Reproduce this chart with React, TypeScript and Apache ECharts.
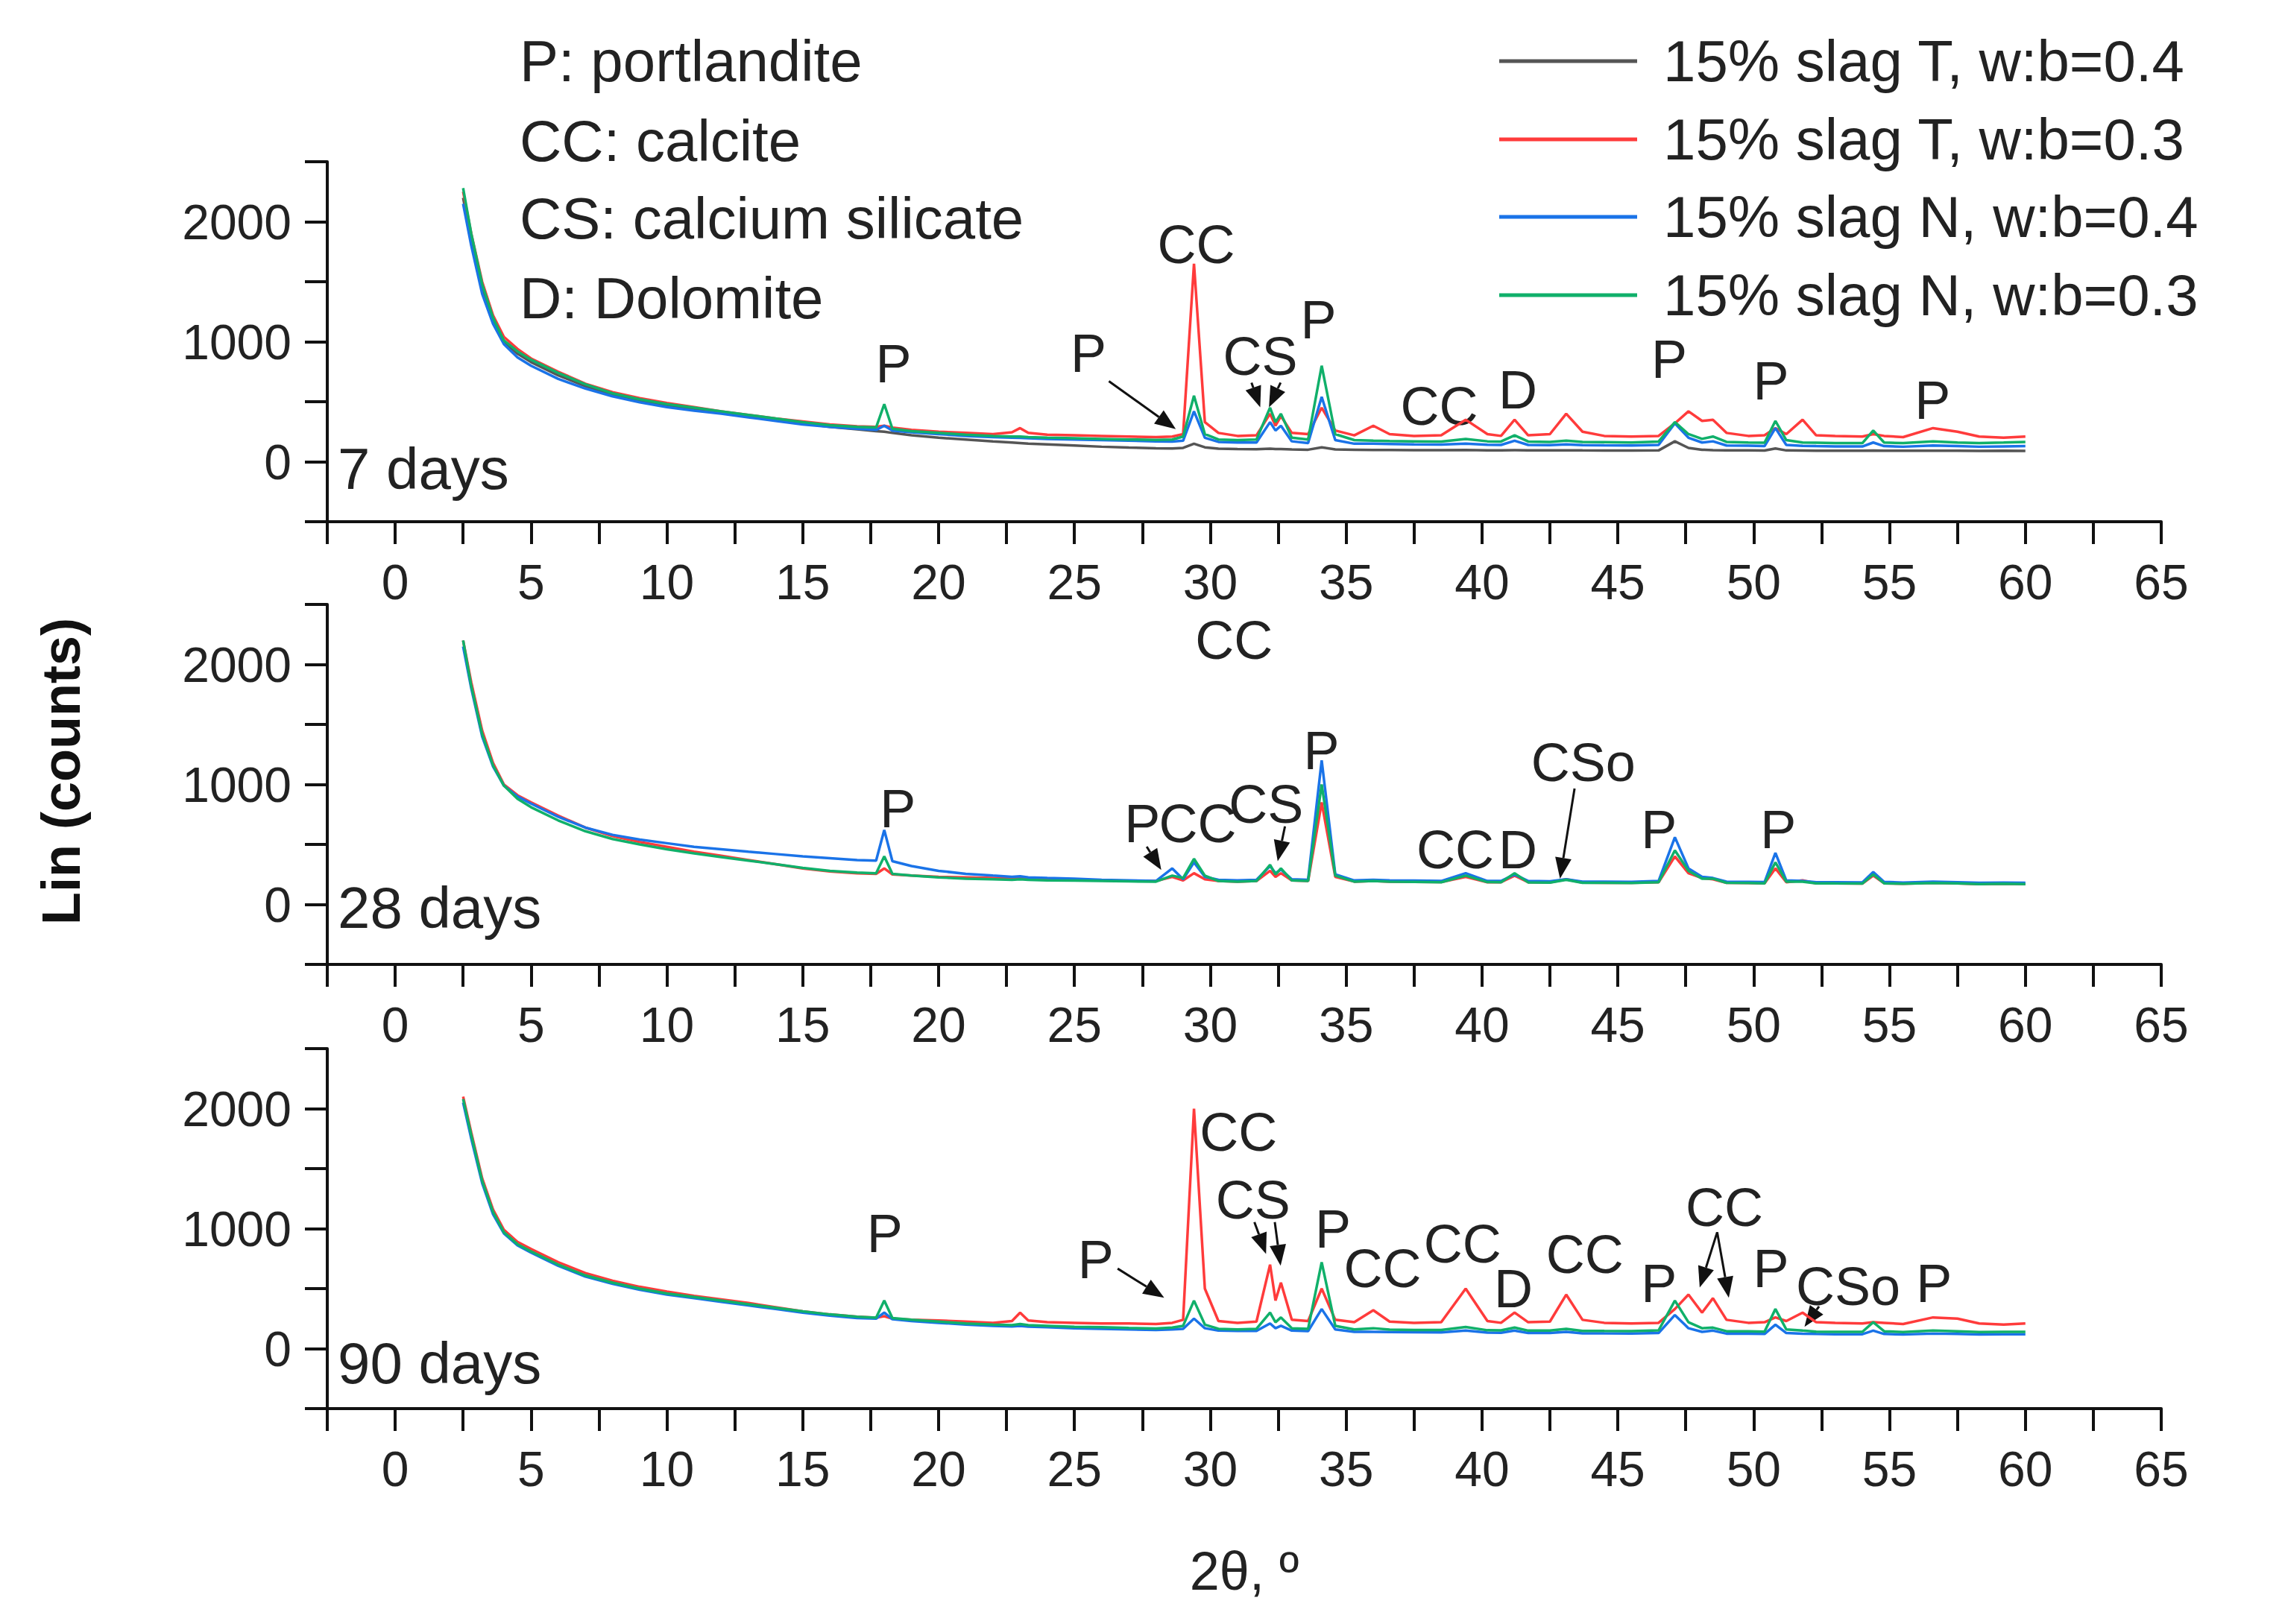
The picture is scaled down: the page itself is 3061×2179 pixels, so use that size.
import React, { useEffect, useRef } from 'react';
import * as echarts from 'echarts';

// 2θ sample positions shared by all patterns
const twoTheta = [
  2.5, 2.8, 3.2, 3.6, 4, 4.5, 5, 6, 7, 8,
  9, 10, 11, 12, 13, 14, 15, 16, 17, 17.7,
  18, 18.3, 19, 20, 21, 22, 22.7, 23, 23.3, 24,
  25, 26, 27, 28, 28.6, 29, 29.4, 29.8, 30.3, 31,
  31.7, 32.2, 32.4, 32.6, 33, 33.6, 34.1, 34.6, 35.3, 36,
  36.6, 37.5, 38.5, 39.4, 40.2, 40.7, 41.2, 41.7, 42.5, 43.1,
  43.7, 44.5, 45.5, 46.5, 47.1, 47.6, 48.1, 48.5, 49, 49.8,
  50.4, 50.8, 51.2, 51.8, 52.3, 53, 54, 54.4, 54.8, 55.5,
  56.6, 57.5, 58.3, 59.2, 60,
];

const seriesNames = [
  '15% slag T, w:b=0.4',
  '15% slag T, w:b=0.3',
  '15% slag N, w:b=0.4',
  '15% slag N, w:b=0.3',
];
const colors = ['#555555', '#ff3b3b', '#1a73e8', '#10b06a'];
const panelLabels = ['7 days', '28 days', '90 days'];
const xTicks = [0, 5, 10, 15, 20, 25, 30, 35, 40, 45, 50, 55, 60, 65];
const yTicks = [0, 1000, 2000];

// 7 days
const grayT04_7 = [
  2200, 1850, 1450, 1180, 1000, 900, 830, 720, 630, 560,
  510, 470, 440, 410, 380, 350, 320, 290, 270, 255,
  250, 240, 220, 200, 185, 170, 160, 155, 150, 145,
  135, 125, 118, 112, 110, 115, 150, 120, 108, 105,
  104, 108, 105, 106, 102, 100, 120, 102, 100, 98,
  98, 97, 96, 98, 95, 95, 96, 95, 94, 95,
  94, 93, 93, 94, 170, 115, 100, 96, 95, 94,
  93, 110, 94, 93, 92, 92, 92, 93, 91, 91,
  92, 91, 90, 91, 90,
];
const redT03_7 = [
  2250, 1900, 1500, 1220, 1040, 940, 860, 750, 650, 580,
  530, 490, 455, 420, 390, 360, 335, 310, 295, 290,
  300, 285, 265, 250, 240, 230, 245, 280, 240, 225,
  220, 215, 210, 205, 210, 230, 1650, 330, 240, 215,
  220, 400, 300, 380, 240, 230, 450, 260, 220, 300,
  230, 215, 220, 350, 230, 215, 350, 220, 230, 400,
  250, 215, 210, 215, 320, 420, 340, 350, 240, 215,
  220, 280, 230, 350, 220, 215, 210, 230, 215, 205,
  280, 250, 210, 200, 210,
];
const blueN04_7 = [
  2150, 1800, 1400, 1150, 980, 870, 800, 690, 610, 545,
  495, 455, 425, 400, 370, 340, 310, 290, 275, 265,
  300, 260, 245, 230, 215, 205, 200, 198, 195, 190,
  185, 180, 175, 170, 168, 175, 420, 200, 165, 160,
  160, 330, 260, 300, 170, 155, 540, 180, 150, 150,
  148, 145, 143, 150, 142, 140, 175, 140, 138, 145,
  138, 136, 135, 140, 320, 200, 160, 170, 135, 133,
  130, 280, 140, 132, 130, 128, 127, 160, 130, 125,
  135, 130, 125, 128, 130,
];
const greenN03_7 = [
  2280, 1900, 1480, 1200, 1010, 920, 850, 740, 645, 570,
  520, 480, 450, 420, 390, 360, 330, 305, 290, 285,
  480, 275, 255, 240, 225, 215, 210, 210, 205, 200,
  195, 190, 185, 182, 185, 210, 550, 230, 185, 180,
  185, 450, 330, 400, 200, 185, 800, 230, 180, 175,
  172, 170, 168, 190, 170, 168, 220, 168, 165, 175,
  165, 163, 160, 168, 330, 230, 190, 210, 165, 160,
  158, 340, 180, 160, 158, 155, 155, 260, 160, 155,
  170, 160, 155, 160, 165,
];

// 28 days
const redT03_28 = [
  2200, 1850, 1450, 1180, 1000, 910, 850, 740, 640, 570,
  520, 480, 440, 405, 370, 335, 300, 275, 260, 255,
  300, 250, 240, 230, 225, 220, 215, 225, 215, 210,
  205, 200, 195, 195, 230, 200, 260, 210, 195, 190,
  195, 280, 230, 260, 200, 195, 850, 230, 190, 195,
  190, 188, 186, 230, 185, 185, 240, 185, 183, 210,
  182, 180, 180, 185, 400, 260, 220, 210, 180, 178,
  176, 300, 185, 200, 176, 175, 174, 240, 176, 172,
  180, 175, 170, 172, 170,
];
const blueN04_28 = [
  2150, 1800, 1400, 1150, 990, 900, 840, 730, 640, 580,
  540, 510, 480, 460, 440, 420, 400, 385, 370, 365,
  620, 360, 320, 280, 255, 240, 230, 235, 225, 220,
  215, 205, 200, 195, 300, 210, 350, 230, 205, 200,
  205, 320, 260, 290, 210, 205, 1200, 250, 200, 205,
  200, 198, 195, 260, 195, 195, 250, 195, 193, 210,
  190, 190, 188, 195, 560, 300, 230, 220, 190, 188,
  186, 430, 200, 195, 185, 185, 183, 270, 188, 182,
  190, 185, 180, 182, 180,
];
const greenN03_28 = [
  2200, 1820, 1420, 1160, 990, 880, 810, 700, 610, 545,
  500, 460, 425, 395, 365, 335, 305, 280, 265, 260,
  400, 255, 240, 225, 215, 210, 205, 210, 205, 200,
  198, 195, 192, 190, 240, 220, 380, 240, 195, 190,
  195, 330, 250, 300, 200, 195, 1000, 240, 190, 195,
  190, 188, 185, 240, 186, 185, 260, 184, 182, 205,
  180, 180, 178, 185, 450, 280, 215, 215, 180, 178,
  176, 350, 190, 190, 176, 175, 174, 250, 176, 172,
  178, 175, 170, 172, 170,
];

// 90 days
const redT03_90 = [
  2100, 1800, 1420, 1160, 990, 890, 830, 720, 630, 565,
  515, 475, 440, 410, 380, 345, 310, 285, 265, 258,
  270, 250, 240, 235, 225, 215, 230, 300, 235, 220,
  215, 210, 210, 205, 215, 240, 2000, 500, 230, 215,
  225, 700, 400, 550, 240, 230, 500, 240, 220, 320,
  225, 215, 220, 500, 230, 215, 300, 220, 225, 450,
  240, 215, 210, 215, 330, 450, 300, 420, 240, 215,
  220, 260, 230, 300, 220, 215, 210, 220, 215, 205,
  260, 250, 210, 200, 210,
];
const blueN04_90 = [
  2050, 1750, 1380, 1120, 960, 860, 800, 690, 600, 540,
  490, 450, 420, 390, 360, 330, 300, 275, 255, 250,
  300, 245, 230, 215, 200, 190, 185, 190, 183, 178,
  170, 165, 160, 155, 160, 165, 250, 170, 150, 148,
  148, 210, 170, 190, 150, 146, 330, 160, 140, 140,
  138, 136, 135, 150, 133, 132, 150, 130, 130, 140,
  128, 127, 126, 130, 280, 170, 140, 150, 125, 124,
  122, 200, 130, 124, 122, 120, 120, 150, 122, 118,
  125, 122, 118, 120, 120,
];
const greenN03_90 = [
  2080, 1780, 1400, 1140, 970, 870, 810, 700, 610, 550,
  500, 460, 430, 400, 370, 340, 310, 285, 265, 258,
  400, 255, 240, 225, 210, 200, 195, 205, 195, 190,
  182, 178, 172, 168, 175, 190, 400, 200, 165, 160,
  165, 300, 220, 260, 170, 165, 720, 190, 160, 170,
  158, 156, 155, 180, 153, 152, 175, 150, 150, 165,
  148, 147, 146, 152, 400, 220, 170, 175, 145, 144,
  142, 330, 160, 150, 142, 140, 140, 220, 145, 138,
  150, 145, 138, 140, 140,
];

// per panel: [gray, red, blue, green] (null = not measured)
const panels: (number[] | null)[][] = [
  [grayT04_7, redT03_7, blueN04_7, greenN03_7],
  [null, redT03_28, blueN04_28, greenN03_28],
  [null, redT03_90, blueN04_90, greenN03_90],
];

const phaseKey = ['P: portlandite', 'CC: calcite', 'CS: calcium silicate', 'D: Dolomite'];

// annotations in reference-preview units (scaled by S)
const S = 1.952;
const notes: [string, number, number][] = [
  ['P', 614, 250], ['P', 748, 243], ['CC', 822, 168], ['CS', 866, 245], ['P', 906, 220],
  ['CC', 989, 279], ['D', 1043, 268], ['P', 1147, 247], ['P', 1217, 262], ['P', 1328, 275],
  ['CC', 848, 440], ['P', 617, 556], ['P', 785, 566], ['CC', 823, 566], ['CS', 870, 553],
  ['P', 908, 516], ['CC', 1000, 584], ['D', 1043, 584], ['CSo', 1088, 524], ['P', 1140, 570],
  ['P', 1222, 570],
  ['P', 608, 848], ['P', 753, 866], ['CC', 851, 778], ['CS', 861, 825], ['P', 916, 845],
  ['CC', 950, 872], ['CC', 1005, 855], ['D', 1040, 886], ['CC', 1089, 862], ['P', 1140, 882],
  ['CC', 1185, 830], ['P', 1217, 872], ['CSo', 1270, 884], ['P', 1329, 882],
];
const arrows: [number, number, number, number][] = [
  [762, 262, 808, 295], [860, 263, 866, 280], [880, 263, 872, 280],
  [788, 582, 798, 598], [883, 568, 878, 592], [1082, 542, 1072, 604],
  [768, 872, 800, 892], [862, 840, 870, 862], [876, 840, 880, 870],
  [1180, 847, 1168, 885], [1180, 847, 1188, 892], [1250, 898, 1240, 912],
];

const FONT = '"Liberation Sans", Arial, sans-serif';

const arrowGraphics = (a: number[]) => {
  const [x1, y1, x2, y2] = a.map((v) => v * S);
  const ang = Math.atan2(y2 - y1, x2 - x1);
  const L = 28, W = 11;
  const bx = x2 - L * Math.cos(ang), by = y2 - L * Math.sin(ang);
  const px = -Math.sin(ang) * W, py = Math.cos(ang) * W;
  return [
    { type: 'line', shape: { x1, y1, x2: bx, y2: by }, style: { stroke: '#111', lineWidth: 3 } },
    {
      type: 'polygon',
      shape: { points: [[x2, y2], [bx + px, by + py], [bx - px, by - py]] },
      style: { fill: '#111' },
    },
  ];
};

const App: React.FC = () => {
  const chartRef = useRef<HTMLDivElement>(null);

  useEffect(() => {
    document.body.style.margin = '0';
    if (!chartRef.current) return;
    const chart = echarts.init(chartRef.current, null, { renderer: 'svg' });

    const tops = [217, 811, 1407];
    const grid = tops.map((top) => ({ left: 439, right: 162, top, height: 483 }));

    const axisLine = { onZero: false, lineStyle: { color: '#111', width: 4 } };
    const xAxis = tops.map((_, i) => ({
      type: 'value',
      gridIndex: i,
      min: -2.5,
      max: 65,
      interval: 2.5,
      axisLine,
      axisTick: { inside: false, length: 30, lineStyle: { color: '#111', width: 4 } },
      axisLabel: {
        margin: 48,
        fontSize: 66,
        fontFamily: FONT,
        color: '#222',
        formatter: (v: number) => (xTicks.includes(v) ? String(v) : ''),
      },
      splitLine: { show: false },
    }));
    const yAxis = tops.map((_, i) => ({
      type: 'value',
      gridIndex: i,
      min: -500,
      max: 2500,
      interval: 500,
      axisLine: { ...axisLine, show: true },
      axisTick: { length: 30, lineStyle: { color: '#111', width: 4 } },
      axisLabel: {
        margin: 48,
        fontSize: 66,
        fontFamily: FONT,
        color: '#222',
        formatter: (v: number) => (yTicks.includes(v) ? String(v) : ''),
      },
      splitLine: { show: false },
    }));

    const series: any[] = [];
    panels.forEach((set, p) => {
      set.forEach((ys, k) => {
        if (!ys) return;
        series.push({
          name: seriesNames[k],
          type: 'line',
          xAxisIndex: p,
          yAxisIndex: p,
          showSymbol: false,
          lineStyle: { color: colors[k], width: 3.5 },
          data: twoTheta.map((x, i) => [x, ys[i]]),
        });
      });
    });

    const graphic: any[] = [];
    phaseKey.forEach((t, i) => {
      graphic.push({
        type: 'text', x: 697, y: [82, 189, 293, 400][i],
        style: { text: t, font: `78px ${FONT}`, fill: '#222', verticalAlign: 'middle' },
      });
    });
    seriesNames.forEach((t, i) => {
      const y = [82, 187, 291, 396][i];
      graphic.push({ type: 'line', shape: { x1: 2011, y1: y, x2: 2196, y2: y }, style: { stroke: colors[i], lineWidth: 5 } });
      graphic.push({ type: 'text', x: 2231, y, style: { text: t, font: `78px ${FONT}`, fill: '#222', verticalAlign: 'middle' } });
    });
    panelLabels.forEach((t, i) => {
      graphic.push({
        type: 'text', x: 453, y: [629, 1218, 1829][i],
        style: { text: t, font: `78px ${FONT}`, fill: '#222', verticalAlign: 'middle' },
      });
    });
    notes.forEach(([t, x, y]) => {
      graphic.push({
        type: 'text', x: x * S, y: y * S,
        style: { text: t, font: `72px ${FONT}`, fill: '#222', align: 'center', verticalAlign: 'middle' },
      });
    });
    arrows.forEach((a) => graphic.push(...arrowGraphics(a)));
    graphic.push({
      type: 'text', x: 82, y: 1035, rotation: Math.PI / 2,
      style: { text: 'Lin (counts)', font: `bold 72px ${FONT}`, fill: '#111', align: 'center', verticalAlign: 'middle' },
    });
    graphic.push({
      type: 'text', x: 1669, y: 2108,
      style: { text: '2θ, º', font: `72px ${FONT}`, fill: '#222', align: 'center', verticalAlign: 'middle' },
    });

    chart.setOption({
      animation: false,
      backgroundColor: '#fff',
      grid,
      xAxis,
      yAxis,
      series,
      graphic,
    });

    return () => chart.dispose();
  }, []);

  return <div ref={chartRef} style={{ width: 3061, height: 2179 }} />;
};

export default App;
